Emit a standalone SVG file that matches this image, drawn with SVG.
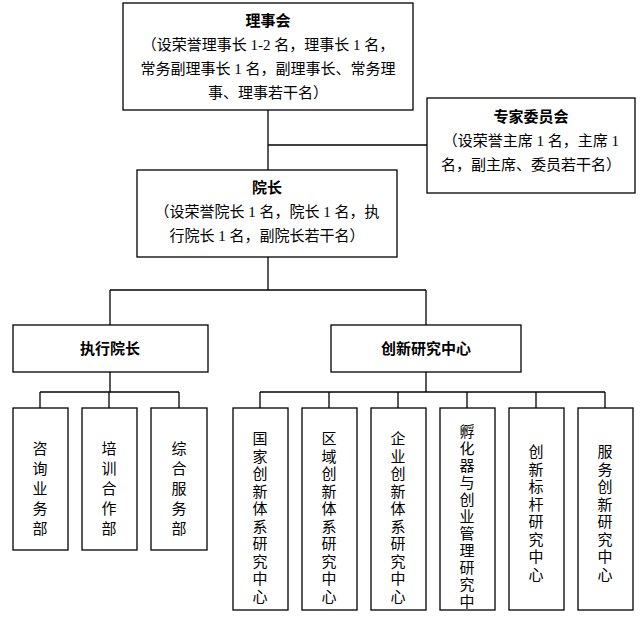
<svg xmlns="http://www.w3.org/2000/svg" width="642" height="620" viewBox="0 0 642 620">
<style>
rect{fill:#fff;stroke:#000;stroke-width:1.3}
text{font-family:"Liberation Serif","Noto Sans CJK SC",serif;font-size:15px;fill:#000;text-anchor:middle}
.b{font-weight:bold}
.c line{stroke:#000;stroke-width:1.3}
</style>
<rect width="642" height="620" style="stroke:none"/>
<g class="c" id="connectors">
<line x1="268" y1="110" x2="268" y2="170"/>
<line x1="268" y1="145" x2="427" y2="145"/>
<line x1="268" y1="257" x2="268" y2="290"/>
<line x1="110" y1="290" x2="426" y2="290"/>
<line x1="110" y1="290" x2="110" y2="325"/>
<line x1="426" y1="290" x2="426" y2="325"/>
<line x1="110" y1="372" x2="110" y2="392"/>
<line x1="40" y1="392" x2="179" y2="392"/>
<line x1="40" y1="392" x2="40" y2="408"/>
<line x1="109" y1="392" x2="109" y2="408"/>
<line x1="179" y1="392" x2="179" y2="408"/>
<line x1="426" y1="372" x2="426" y2="392"/>
<line x1="260" y1="392" x2="605" y2="392"/>
<line x1="260" y1="392" x2="260" y2="408"/>
<line x1="329" y1="392" x2="329" y2="408"/>
<line x1="398" y1="392" x2="398" y2="408"/>
<line x1="467" y1="392" x2="467" y2="408"/>
<line x1="536" y1="392" x2="536" y2="408"/>
<line x1="605" y1="392" x2="605" y2="408"/>
</g>
<g id="lishihui"><rect x="123" y="3" width="290" height="107"/>
<text x="268" y="26" class="b">理事会</text>
<text x="268" y="50">（设荣誉理事长 1-2 名，理事长 1 名，</text>
<text x="268" y="74">常务副理事长 1 名，副理事长、常务理</text>
<text x="268" y="98">事、理事若干名）</text></g>
<g id="zhuanjia"><rect x="427" y="98" width="208" height="95"/>
<text x="531" y="122" class="b">专家委员会</text>
<text x="531" y="146">（设荣誉主席 1 名，主席 1</text>
<text x="531" y="170">名，副主席、委员若干名）</text></g>
<g id="yuanzhang"><rect x="137" y="170" width="260" height="87"/>
<text x="267" y="193" class="b">院长</text>
<text x="267" y="217">（设荣誉院长 1 名，院长 1 名，执</text>
<text x="267" y="241">行院长 1 名，副院长若干名）</text></g>
<g id="zhixing"><rect x="13" y="325" width="195" height="47"/><text x="110" y="354" class="b">执行院长</text></g>
<g id="chuangxin"><rect x="331" y="325" width="190" height="47"/><text x="426" y="354" class="b">创新研究中心</text></g>
<g id="zixun"><rect x="13" y="408" width="55" height="142"/><text x="40" y="454"><tspan x="40">咨</tspan><tspan x="40" dy="20">询</tspan><tspan x="40" dy="20">业</tspan><tspan x="40" dy="20">务</tspan><tspan x="40" dy="20">部</tspan></text></g>
<g id="peixun"><rect x="82" y="408" width="55" height="142"/><text x="109" y="454"><tspan x="109">培</tspan><tspan x="109" dy="20">训</tspan><tspan x="109" dy="20">合</tspan><tspan x="109" dy="20">作</tspan><tspan x="109" dy="20">部</tspan></text></g>
<g id="zonghe"><rect x="151" y="408" width="56" height="142"/><text x="179" y="454"><tspan x="179">综</tspan><tspan x="179" dy="20">合</tspan><tspan x="179" dy="20">服</tspan><tspan x="179" dy="20">务</tspan><tspan x="179" dy="20">部</tspan></text></g>
<g id="guojia"><rect x="233" y="408" width="55" height="202"/><text x="260" y="444"><tspan x="260">国</tspan><tspan x="260" dy="17.5">家</tspan><tspan x="260" dy="17.5">创</tspan><tspan x="260" dy="17.5">新</tspan><tspan x="260" dy="17.5">体</tspan><tspan x="260" dy="17.5">系</tspan><tspan x="260" dy="17.5">研</tspan><tspan x="260" dy="17.5">究</tspan><tspan x="260" dy="17.5">中</tspan><tspan x="260" dy="17.5">心</tspan></text></g>
<g id="quyu"><rect x="302" y="408" width="55" height="202"/><text x="329" y="444"><tspan x="329">区</tspan><tspan x="329" dy="17.5">域</tspan><tspan x="329" dy="17.5">创</tspan><tspan x="329" dy="17.5">新</tspan><tspan x="329" dy="17.5">体</tspan><tspan x="329" dy="17.5">系</tspan><tspan x="329" dy="17.5">研</tspan><tspan x="329" dy="17.5">究</tspan><tspan x="329" dy="17.5">中</tspan><tspan x="329" dy="17.5">心</tspan></text></g>
<g id="qiye"><rect x="371" y="408" width="55" height="202"/><text x="398" y="444"><tspan x="398">企</tspan><tspan x="398" dy="17.5">业</tspan><tspan x="398" dy="17.5">创</tspan><tspan x="398" dy="17.5">新</tspan><tspan x="398" dy="17.5">体</tspan><tspan x="398" dy="17.5">系</tspan><tspan x="398" dy="17.5">研</tspan><tspan x="398" dy="17.5">究</tspan><tspan x="398" dy="17.5">中</tspan><tspan x="398" dy="17.5">心</tspan></text></g>
<g id="fuhua"><rect x="440" y="408" width="55" height="202"/><text x="467" y="437"><tspan x="467">孵</tspan><tspan x="467" dy="17">化</tspan><tspan x="467" dy="17">器</tspan><tspan x="467" dy="17">与</tspan><tspan x="467" dy="17">创</tspan><tspan x="467" dy="17">业</tspan><tspan x="467" dy="17">管</tspan><tspan x="467" dy="17">理</tspan><tspan x="467" dy="17">研</tspan><tspan x="467" dy="17">究</tspan><tspan x="467" dy="17">中</tspan></text></g>
<g id="biaogan"><rect x="509" y="408" width="55" height="202"/><text x="536" y="457"><tspan x="536">创</tspan><tspan x="536" dy="17.5">新</tspan><tspan x="536" dy="17.5">标</tspan><tspan x="536" dy="17.5">杆</tspan><tspan x="536" dy="17.5">研</tspan><tspan x="536" dy="17.5">究</tspan><tspan x="536" dy="17.5">中</tspan><tspan x="536" dy="17.5">心</tspan></text></g>
<g id="fuwu"><rect x="578" y="408" width="55" height="202"/><text x="605" y="457"><tspan x="605">服</tspan><tspan x="605" dy="17.5">务</tspan><tspan x="605" dy="17.5">创</tspan><tspan x="605" dy="17.5">新</tspan><tspan x="605" dy="17.5">研</tspan><tspan x="605" dy="17.5">究</tspan><tspan x="605" dy="17.5">中</tspan><tspan x="605" dy="17.5">心</tspan></text></g>
</svg>
